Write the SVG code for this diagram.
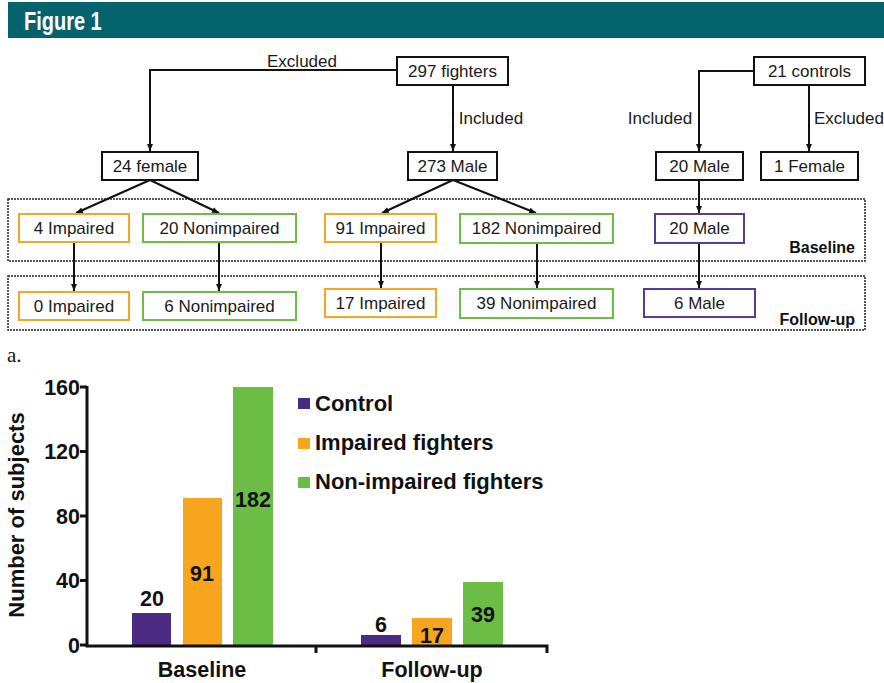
<svg xmlns="http://www.w3.org/2000/svg" width="884" height="683" viewBox="0 0 884 683">
<defs>
<marker id="ah" markerWidth="8" markerHeight="8" refX="7" refY="4" orient="auto" markerUnits="userSpaceOnUse">
<path d="M0,1 L7,4 L0,7 Z" fill="#111"/>
</marker>
<style>
.t{font-family:"Liberation Sans",Arial,sans-serif;font-size:17px;fill:#1a1a1a;text-anchor:middle}
.b{fill:#fff;stroke:#111;stroke-width:2}
.o{fill:#fff;stroke:#f7a623;stroke-width:2}
.g{fill:#fff;stroke:#6cbd45;stroke-width:2}
.p{fill:#fff;stroke:#5b3a96;stroke-width:2}
.c{fill:none;stroke:#111;stroke-width:2}
.d{fill:none;stroke:#222;stroke-width:1.5;stroke-dasharray:2 1}
.bl{font-family:"Liberation Sans",Arial,sans-serif;font-weight:bold;fill:#111}
</style>
</defs>
<rect width="884" height="683" fill="#fff"/>
<rect x="8" y="2" width="876" height="36" fill="#05636d"/>
<text x="24" y="30" font-family="Liberation Sans,Arial,sans-serif" font-weight="bold" font-size="25" fill="#fff" transform="translate(24 0) scale(0.8 1) translate(-24 0)">Figure 1</text>

<g id="dashed-boxes">
<rect x="8" y="199" width="857" height="62" class="d"/>
<rect x="8" y="276" width="857" height="54" class="d"/>
<text x="855" y="253" class="bl" font-size="16" text-anchor="end">Baseline</text>
<text x="855" y="325" class="bl" font-size="16" text-anchor="end">Follow-up</text>
</g>

<g id="connectors">
<path d="M397,70 H150 V151" class="c" marker-end="url(#ah)"/>
<path d="M453,85 V151" class="c" marker-end="url(#ah)"/>
<path d="M754,71 H699 V151" class="c" marker-end="url(#ah)"/>
<path d="M809,85 V151" class="c" marker-end="url(#ah)"/>
<path d="M150,180 L76,213" class="c" marker-end="url(#ah)"/>
<path d="M150,180 L219,213" class="c" marker-end="url(#ah)"/>
<path d="M453,180 L382,213" class="c" marker-end="url(#ah)"/>
<path d="M453,180 L536,213" class="c" marker-end="url(#ah)"/>
<path d="M699,180 V213" class="c" marker-end="url(#ah)"/>
<path d="M74,242 V291" class="c" marker-end="url(#ah)"/>
<path d="M219,242 V291" class="c" marker-end="url(#ah)"/>
<path d="M381,242 V288" class="c" marker-end="url(#ah)"/>
<path d="M537,243 V288" class="c" marker-end="url(#ah)"/>
<path d="M699,243 V288" class="c" marker-end="url(#ah)"/>
<text x="302" y="67" class="t">Excluded</text>
<text x="491" y="124" class="t">Included</text>
<text x="660" y="124" class="t">Included</text>
<text x="849" y="124" class="t">Excluded</text>
</g>

<g id="n297"><rect x="397" y="57" width="111" height="28" class="b"/><text x="452.5" y="77" class="t">297 fighters</text></g>
<g id="n21"><rect x="754" y="57" width="111" height="28" class="b"/><text x="809.5" y="77" class="t">21 controls</text></g>
<g id="n24f"><rect x="102" y="152" width="96" height="28" class="b"/><text x="150" y="172" class="t">24 female</text></g>
<g id="n273m"><rect x="408" y="152" width="89" height="28" class="b"/><text x="452.5" y="172" class="t">273 Male</text></g>
<g id="n20mc"><rect x="656" y="152" width="87" height="28" class="b"/><text x="699.5" y="172" class="t">20 Male</text></g>
<g id="n1f"><rect x="761" y="152" width="97" height="28" class="b"/><text x="809.5" y="172" class="t">1 Female</text></g>

<g id="b4i"><rect x="19" y="214" width="110" height="28" class="o"/><text x="74" y="234" class="t">4 Impaired</text></g>
<g id="b20n"><rect x="143" y="214" width="153" height="28" class="g"/><text x="219.5" y="234" class="t">20 Nonimpaired</text></g>
<g id="b91i"><rect x="325" y="214" width="111" height="28" class="o"/><text x="380.5" y="234" class="t">91 Impaired</text></g>
<g id="b182n"><rect x="460" y="214" width="153" height="29" class="g"/><text x="536.5" y="234" class="t">182 Nonimpaired</text></g>
<g id="b20m"><rect x="655" y="214" width="89" height="29" class="p"/><text x="699.5" y="234" class="t">20 Male</text></g>

<g id="f0i"><rect x="19" y="292" width="110" height="28" class="o"/><text x="74" y="312" class="t">0 Impaired</text></g>
<g id="f6n"><rect x="143" y="292" width="153" height="28" class="g"/><text x="219.5" y="312" class="t">6 Nonimpaired</text></g>
<g id="f17i"><rect x="325" y="289" width="111" height="28" class="o"/><text x="380.5" y="309" class="t">17 Impaired</text></g>
<g id="f39n"><rect x="460" y="289" width="153" height="29" class="g"/><text x="536.5" y="309" class="t">39 Nonimpaired</text></g>
<g id="f6m"><rect x="644" y="289" width="111" height="28" class="p"/><text x="699.5" y="309" class="t">6 Male</text></g>

<g id="chart">
<text x="7" y="362" font-family="Liberation Serif,Times New Roman,serif" font-size="21" fill="#111">a.</text>
<g id="bars">
<rect x="132" y="613" width="39" height="32" fill="#4a2a82"/>
<rect x="183" y="498" width="39" height="147" fill="#f7a51e"/>
<rect x="233" y="387" width="40" height="258" fill="#6bbd45"/>
<rect x="361" y="635" width="40" height="10" fill="#4a2a82"/>
<rect x="412" y="618" width="40" height="27" fill="#f7a51e"/>
<rect x="463" y="582" width="40" height="63" fill="#6bbd45"/>
</g>
<g id="axes" stroke="#111" stroke-width="3" fill="none">
<path d="M87,386 V646 H547 V653"/>
<path d="M316,645 V653"/>
<path d="M80,387 H87 M80,451.5 H87 M80,516 H87 M80,580.5 H87 M80,645 H87"/>
</g>
<g class="bl" font-size="21.5" text-anchor="end">
<text x="80" y="395">160</text>
<text x="80" y="459">120</text>
<text x="80" y="524">80</text>
<text x="80" y="588">40</text>
<text x="80" y="653">0</text>
</g>
<text class="bl" font-size="22" text-anchor="middle" transform="translate(24 515) rotate(-90)">Number of subjects</text>
<g class="bl" font-size="21.5" text-anchor="middle">
<text x="152" y="606">20</text>
<text x="202" y="581">91</text>
<text x="253" y="507">182</text>
<text x="381" y="632">6</text>
<text x="432" y="643">17</text>
<text x="483" y="622">39</text>
<text x="202" y="677">Baseline</text>
<text x="432" y="677">Follow-up</text>
</g>
<g id="legend">
<rect x="298" y="398" width="12" height="11" fill="#4a2a82"/>
<rect x="298" y="438" width="12" height="11" fill="#f7a51e"/>
<rect x="298" y="477" width="12" height="11" fill="#6bbd45"/>
<g class="bl" font-size="22">
<text x="315" y="411">Control</text>
<text x="315" y="450">Impaired fighters</text>
<text x="315" y="489">Non-impaired fighters</text>
</g>
</g>
</g>
</svg>
